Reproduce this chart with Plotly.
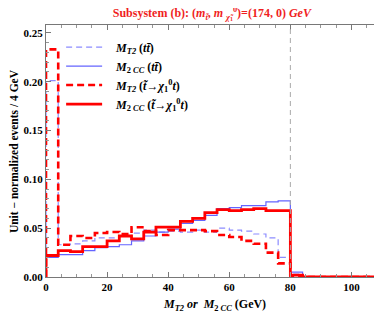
import plotly.graph_objects as go

bin_edges = [0, 4, 8, 12, 16, 20, 24, 28, 32, 36, 40, 44, 48, 52, 56, 60, 64, 68, 72, 76, 80, 84, 88, 92, 96, 100, 104, 108, 112]

mt2_tt = [0.201, 0.033, 0.034, 0.037, 0.040, 0.040, 0.042, 0.045, 0.048, 0.046, 0.047, 0.046, 0.048, 0.046, 0.050, 0.048, 0.047, 0.044, 0.040, 0.020, 0.003, 0, 0, 0, 0, 0, 0, 0]
m2cc_tt = [0.020, 0.023, 0.023, 0.027, 0.030, 0.031, 0.033, 0.037, 0.042, 0.046, 0.049, 0.055, 0.058, 0.063, 0.070, 0.071, 0.073, 0.073, 0.077, 0.078, 0.005, 0, 0, 0, 0, 0, 0, 0]
mt2_st = [0.233, 0.033, 0.042, 0.040, 0.045, 0.046, 0.044, 0.051, 0.047, 0.043, 0.048, 0.048, 0.048, 0.047, 0.043, 0.041, 0.037, 0.034, 0.025, 0.014, 0.001, 0, 0, 0, 0, 0, 0, 0]
m2cc_st = [0.022, 0.027, 0.026, 0.031, 0.031, 0.037, 0.042, 0.039, 0.046, 0.051, 0.051, 0.057, 0.060, 0.066, 0.069, 0.068, 0.069, 0.070, 0.068, 0.068, 0.002, 0, 0, 0, 0, 0, 0, 0]
y_tick_vals = [0, 0.05, 0.10, 0.15, 0.20, 0.25]
y_tick_text = ["0.00", "0.05", "0.10", "0.15", "0.20", "0.25"]
x_tick_vals = [0, 20, 40, 60, 80, 100]

pad = "\u00a0\u00a0\u00a0"
names = [
    pad + "<i>M</i><sub><i>T2</i></sub> (<i>t</i><i>t\u0304</i>)",
    pad + "<i>M</i><sub>2 <i>CC</i></sub> (<i>t</i><i>t\u0304</i>)",
    pad + "<i>M</i><sub><i>T2</i></sub> (<i>t\u0303</i>\u2192<i>\u03c7</i><sub>1</sub><sup>0</sup><i>t</i>)",
    pad + "<i>M</i><sub>2 <i>CC</i></sub> (<i>t\u0303</i>\u2192<i>\u03c7</i><sub>1</sub><sup>0</sup><i>t</i>)",
]
series = [mt2_tt, m2cc_tt, mt2_st, m2cc_st]
styles = [
    dict(color="rgb(140,140,255)", width=1.2, dash="6px,4px"),
    dict(color="rgb(100,100,255)", width=1.2, dash="solid"),
    dict(color="rgb(255,0,0)", width=2.6, dash="7px,4px"),
    dict(color="rgb(255,0,0)", width=2.8, dash="solid"),
]

fig = go.Figure()
for name, vals, st in zip(names, series, styles):
    xs = [bin_edges[0]] + bin_edges
    ys = [0] + vals + [vals[-1]]
    fig.add_trace(go.Scatter(x=xs, y=ys, mode="lines", line_shape="hv",
                             line=st, name=name))

fig.add_vline(x=80, line=dict(color="rgb(170,170,170)", width=1, dash="5px,4px"))

font_fam = "Liberation Serif, Times New Roman, serif"
# the page body adds an 8px offset, so the figure is 374x308 with shifted margins
fig.update_layout(
    width=374, height=308,
    margin=dict(l=38, r=0, t=17, b=39, autoexpand=False),
    paper_bgcolor="white", plot_bgcolor="white",
    font=dict(family=font_fam, size=11, color="black", weight="bold"),
    title=dict(text="Subsystem (b): (<i>m</i><sub><i>t\u0303</i></sub>, <i>m</i> <sub><i>\u03c7\u0303</i><sub>1</sub></sub><sup>0</sup>)=(174, 0) <i>GeV</i>",
               x=0.545, xanchor="center", y=0.998, yanchor="top",
               font=dict(family=font_fam, size=12, color="rgb(240,30,30)", weight="bold")),
    showlegend=True,
    legend=dict(x=0.045, y=0.97, xanchor="left", yanchor="top",
                bgcolor="rgba(0,0,0,0)", font=dict(size=12, family=font_fam, weight="bold"),
                itemwidth=36, tracegroupgap=0),
    annotations=[
        dict(text="<i>M</i><sub><i>T2</i></sub> <i>or</i>  <i>M</i><sub>2 <i>CC</i></sub> (GeV)",
             xref="paper", yref="paper", x=0.5, y=-0.111, xanchor="center", yanchor="middle",
             showarrow=False, font=dict(size=12, family=font_fam, weight="bold")),
        dict(text="Unit \u2212 normalized events / 4 GeV", textangle=-90,
             xref="paper", yref="paper", x=-0.095, y=0.5, xanchor="center", yanchor="middle",
             showarrow=False, font=dict(size=11.5, family=font_fam, weight="bold")),
    ],
)
fig.update_xaxes(range=[0, 110], showline=True, linecolor="rgb(120,120,120)", linewidth=1,
                 mirror="ticks", ticks="inside", ticklen=5, tickcolor="rgb(120,120,120)",
                 tickvals=x_tick_vals, showgrid=False, zeroline=False, automargin=False,
                 minor=dict(ticks="inside", ticklen=3, dtick=5, tickcolor="rgb(150,150,150)"))
fig.update_yaxes(range=[0, 0.258], showline=True, linecolor="rgb(120,120,120)", linewidth=1,
                 mirror="ticks", ticks="inside", ticklen=5, tickcolor="rgb(120,120,120)",
                 tickvals=y_tick_vals, ticktext=y_tick_text,
                 showgrid=False, zeroline=False, automargin=False,
                 minor=dict(ticks="inside", ticklen=3, dtick=0.01, tickcolor="rgb(150,150,150)"))

fig.write_html("out.html", config={"displayModeBar": False})
